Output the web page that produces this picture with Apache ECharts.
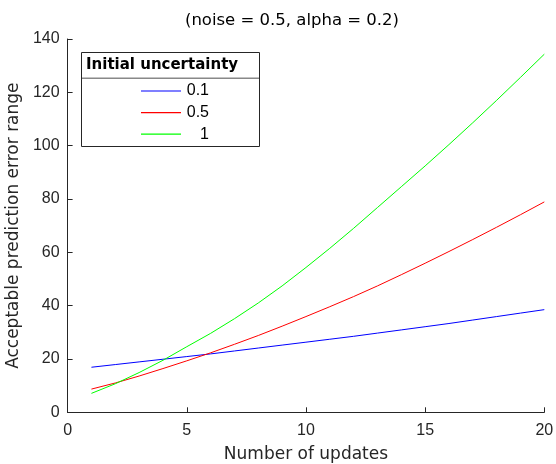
<!DOCTYPE html>
<html>
<head>
<meta charset="utf-8">
<script src="https://cdn.jsdelivr.net/npm/echarts@6/dist/echarts.min.js"></script>
<style>html,body{margin:0;padding:0;background:#fff}#c{width:556px;height:464px}</style>
</head>
<body>
<div id="c"></div>
<script>
const updates = [1,2,3,4,5,6,7,8,9,10,11,12,13,14,15,16,17,18,19,20];
const u01 = [16.9,17.9,18.9,19.9,20.9,21.9,23.0,24.1,25.2,26.3,27.4,28.5,29.7,30.9,32.1,33.3,34.6,35.9,37.2,38.5];
const u05 = [8.7,11.0,13.6,16.4,19.3,22.3,25.5,28.8,32.3,35.9,39.6,43.4,47.4,51.6,55.9,60.3,64.8,69.4,74.1,78.9];
const u1  = [7.1,10.7,14.9,19.5,24.6,29.6,35.1,41.0,47.4,54.3,61.5,69.0,76.8,84.6,92.4,100.4,108.6,117.0,125.6,134.3];
const seriesNames = ['0.1','0.5','1'];
const seriesColors = ['#0000FF','#FF0000','#00FF00'];
const xTicks = {min:0,max:20,interval:5};
const yTicks = {min:0,max:140,interval:20};

const ink = '#262626';
const font = 'Liberation Sans';
const wide = 'DejaVu Sans';
const allVals = [u01,u05,u1];
const chart = echarts.init(document.getElementById('c'), null, {renderer:'canvas'});
chart.setOption({
  animation:false,
  backgroundColor:'#fff',
  title:{
    text:'(noise = 0.5, alpha = 0.2)',
    left:287, top:7, textAlign:'center',
    textStyle:{fontFamily:wide,fontSize:16.5,fontWeight:'normal',color:'#000'}
  },
  grid:{left:67.6,right:11.7,top:39,bottom:51.7,containLabel:false,outerBoundsMode:'none'},
  xAxis:{
    type:'value', min:xTicks.min, max:xTicks.max, interval:xTicks.interval,
    name:'Number of updates', nameLocation:'middle', nameGap:34,
    nameTextStyle:{fontFamily:wide,fontSize:17,color:ink},
    axisLine:{show:true,lineStyle:{color:ink,width:1}},
    axisTick:{show:true,inside:true,length:5,lineStyle:{color:ink}},
    axisLabel:{fontFamily:font,fontSize:16,color:ink,margin:10},
    splitLine:{show:false}
  },
  yAxis:{
    type:'value', min:yTicks.min, max:yTicks.max, interval:yTicks.interval,
    name:'Acceptable prediction error range', nameLocation:'middle', nameGap:40,
    nameTextStyle:{fontFamily:wide,fontSize:17,color:ink},
    axisLine:{show:true,lineStyle:{color:ink,width:1}},
    axisTick:{show:true,inside:true,length:5,lineStyle:{color:ink}},
    axisLabel:{fontFamily:font,fontSize:16,color:ink,margin:8},
    splitLine:{show:false}
  },
  legend:{
    data:seriesNames.map(n=>({name:n,icon:'rect'})),
    orient:'vertical', left:136, top:76, itemWidth:40, itemHeight:1.2, itemGap:1.6,
    selectedMode:false,
    formatter:n=>'{v|'+n+'}',
    textStyle:{fontFamily:font,fontSize:16,color:'#000',lineHeight:20,
      rich:{v:{width:23,align:'right',fontFamily:font,fontSize:16,lineHeight:20,color:'#000'}}}
  },
  graphic:[
    {type:'rect',shape:{x:81.5,y:52.5,width:178,height:94},style:{fill:'#fff',stroke:ink,lineWidth:1},z:-1,silent:true},
    {type:'line',shape:{x1:82,y1:78.3,x2:259,y2:78.3},style:{stroke:'#888',lineWidth:1.5},silent:true},
    {type:'text',left:86,top:58,style:{text:'Initial uncertainty',fontFamily:wide,fontSize:15,fontWeight:'bold',fill:'#000'},silent:true}
  ],
  series:seriesNames.map((n,i)=>({
    name:n, type:'line', showSymbol:false, symbol:'none',
    color:seriesColors[i],
    lineStyle:{color:seriesColors[i],width:1},
    data:updates.map((x,k)=>[x,allVals[i][k]]),
    z:3
  }))
});
</script>
</body>
</html>
